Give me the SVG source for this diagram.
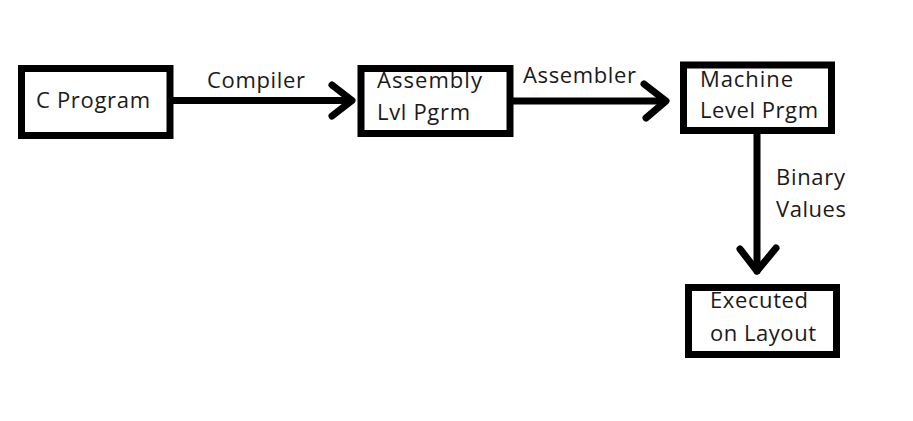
<svg xmlns="http://www.w3.org/2000/svg" width="913" height="421" viewBox="0 0 913 421">
<style>
.box{fill:#fff;stroke:#000;stroke-width:7}
.t{font-family:"Open Sans","Liberation Sans",sans-serif;font-size:22px;fill:#1a1a1a}
.c{fill:none;stroke:#000;stroke-width:7;stroke-linecap:round;stroke-linejoin:round}
</style>
<rect width="913" height="421" fill="#fff"/>
<g id="connectors">
<g id="e1"><line class="c" x1="173" y1="100.5" x2="350" y2="100.5"/><polyline class="c" points="332,85 352,100.5 332,116"/>
<text class="t" x="207" y="88" textLength="98">Compiler</text></g>
<g id="e2"><line class="c" x1="512" y1="101" x2="664" y2="101"/><polyline class="c" points="644,84 666,101 646,118"/>
<text class="t" x="523" y="83" textLength="113">Assembler</text></g>
<g id="e3"><line class="c" x1="757" y1="134" x2="757" y2="271"/><polyline class="c" points="740,249 757,271 776,248"/>
<text class="t" x="776" y="185" textLength="69">Binary</text>
<text class="t" x="776" y="217" textLength="70">Values</text></g>
</g>
<g id="n1"><rect class="box" x="21.5" y="68.5" width="148.5" height="67"/>
<text class="t" x="36" y="108" textLength="114">C Program</text></g>
<g id="n2"><rect class="box" x="361" y="68.5" width="149" height="65"/>
<text class="t" x="377" y="88" textLength="105">Assembly</text>
<text class="t" x="377" y="120" textLength="93">Lvl Pgrm</text></g>
<g id="n3"><rect class="box" x="683.5" y="65" width="148" height="65.5"/>
<text class="t" x="700" y="87" textLength="93">Machine</text>
<text class="t" x="700" y="118" textLength="118">Level Prgm</text></g>
<g id="n4"><rect class="box" x="688.5" y="287.5" width="148" height="67"/>
<text class="t" x="710" y="308" textLength="98">Executed</text>
<text class="t" x="710" y="341" textLength="106">on Layout</text></g>
</svg>
